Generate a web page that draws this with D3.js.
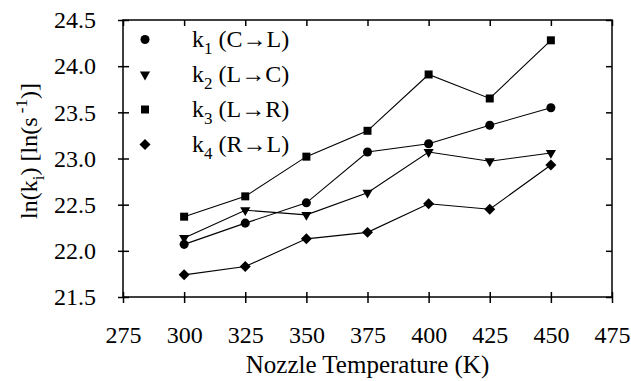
<!DOCTYPE html>
<html>
<head>
<meta charset="utf-8">
<script src="https://cdn.jsdelivr.net/npm/d3@7"></script>
</head>
<body style="margin:0; background:#fff">
<svg id="chart" width="631" height="381"></svg>
<script>
// data
const temps = [300, 325, 350, 375, 400, 425, 450];
const k1 = [22.07, 22.30, 22.52, 23.07, 23.16, 23.36, 23.55];
const k2 = [22.14, 22.44, 22.39, 22.63, 23.07, 22.97, 23.06];
const k3 = [22.37, 22.59, 23.02, 23.30, 23.91, 23.65, 24.28];
const k4 = [21.74, 21.83, 22.13, 22.20, 22.51, 22.45, 22.93];
const xTicks = [275, 300, 325, 350, 375, 400, 425, 450, 475];
const yTicks = [21.5, 22.0, 22.5, 23.0, 23.5, 24.0, 24.5];
const seriesNames = ["1", "2", "3", "4"];
const seriesLabels = ["(C\u2192L)", "(L\u2192C)", "(L\u2192R)", "(R\u2192L)"];
const seriesValues = [k1, k2, k3, k4];

const svgWidth = 631;
const svgHeight = 381;
const margin = { top: 20, right: 19, bottom: 84, left: 123 };
const width = svgWidth - margin.left - margin.right;
const height = svgHeight - margin.top - margin.bottom;
const fontSize = 24;
const serif = '"Liberation Serif"';

const svg = d3.select("#chart")
  .append("g")
  .attr("transform", `translate(${margin.left},${margin.top})`);

const xScale = d3.scaleLinear().domain([275, 475]).range([0, width]);
const yScale = d3.scaleLinear().domain([21.5, 24.5]).range([height, 0]);

// frame
svg.append("rect")
  .attr("width", width).attr("height", height)
  .attr("fill", "none").attr("stroke", "#000").attr("stroke-width", 1.5);

// bottom axis: ticks cross the line
const xAxis = svg.append("g")
  .attr("transform", `translate(0,${height})`)
  .call(d3.axisBottom(xScale).tickValues(xTicks).tickSizeInner(6).tickSizeOuter(0).tickPadding(23).tickFormat(d3.format("d")));
xAxis.select(".domain").remove();
xAxis.selectAll(".tick line").attr("y1", -5).attr("stroke-width", 1.5);
xAxis.selectAll("text").attr("font-size", fontSize).style("font-family", serif);

// left axis
const yAxis = svg.append("g")
  .call(d3.axisLeft(yScale).tickValues(yTicks).tickSizeInner(5).tickSizeOuter(0).tickPadding(22).tickFormat(d3.format(".1f")));
yAxis.select(".domain").remove();
yAxis.selectAll(".tick line").attr("x1", 6).attr("stroke-width", 1.5);
yAxis.selectAll("text").attr("font-size", fontSize).style("font-family", serif);

// inner ticks on top and right
const topAxis = svg.append("g")
  .call(d3.axisTop(xScale).tickValues(xTicks).tickSize(-6).tickFormat(""));
topAxis.select(".domain").remove();
topAxis.selectAll(".tick line").attr("stroke-width", 1.5);

const rightAxis = svg.append("g")
  .attr("transform", `translate(${width},0)`)
  .call(d3.axisRight(yScale).tickValues(yTicks).tickSize(-6).tickFormat(""));
rightAxis.select(".domain").remove();
rightAxis.selectAll(".tick line").attr("stroke-width", 1.5);

// circle, down triangle, square, diamond (rotated square)
const symbols = [d3.symbolCircle, d3.symbolTriangle, d3.symbolSquare, d3.symbolSquare];
const symSizes = [64, 45, 64, 60];
const symRotate = [0, 180, 0, 45];

const line = d3.line()
  .x((d, i) => xScale(temps[i]))
  .y(d => yScale(d));

seriesValues.forEach((vals, s) => {
  svg.append("path")
    .datum(vals)
    .attr("d", line)
    .attr("fill", "none")
    .attr("stroke", "#000")
    .attr("stroke-width", 1.1);

  svg.selectAll(".pt" + s)
    .data(vals)
    .enter()
    .append("path")
    .attr("class", "pt" + s)
    .attr("d", d3.symbol().type(symbols[s]).size(symSizes[s]))
    .attr("transform", (d, i) => `translate(${xScale(temps[i])},${yScale(d)}) rotate(${symRotate[s]})`)
    .attr("fill", "#000");
});

// legend
const legend = svg.append("g").attr("transform", "translate(22,19.5)");
seriesNames.forEach((n, s) => {
  const row = legend.append("g").attr("transform", `translate(0,${s * 35})`);
  row.append("path")
    .attr("d", d3.symbol().type(symbols[s]).size(symSizes[s]))
    .attr("transform", `rotate(${symRotate[s]})`)
    .attr("fill", "#000");
  const t = row.append("text")
    .attr("x", 47).attr("y", 7)
    .attr("font-size", fontSize)
    .style("font-family", serif);
  t.append("tspan").text("k");
  t.append("tspan").attr("font-size", 17).attr("dy", 7).text(n);
  t.append("tspan").attr("dy", -7).text(" " + seriesLabels[s]);
});

// axis titles
svg.append("text")
  .attr("x", width / 2)
  .attr("y", height + 76)
  .attr("text-anchor", "middle")
  .attr("font-size", 25)
  .style("font-family", serif)
  .text("Nozzle Temperature (K)");

const yt = svg.append("text")
  .attr("transform", `translate(${-86},${131}) rotate(-90)`)
  .attr("text-anchor", "middle")
  .attr("font-size", fontSize)
  .style("font-family", serif);
yt.append("tspan").text("ln(k");
yt.append("tspan").attr("font-size", 17).attr("dy", 7).text("i");
yt.append("tspan").attr("dy", -7).text(") [ln(s");
yt.append("tspan").attr("font-size", 17).attr("dy", -10).text(" -1");
yt.append("tspan").attr("dy", 10).text(")]");
</script>
</body>
</html>
